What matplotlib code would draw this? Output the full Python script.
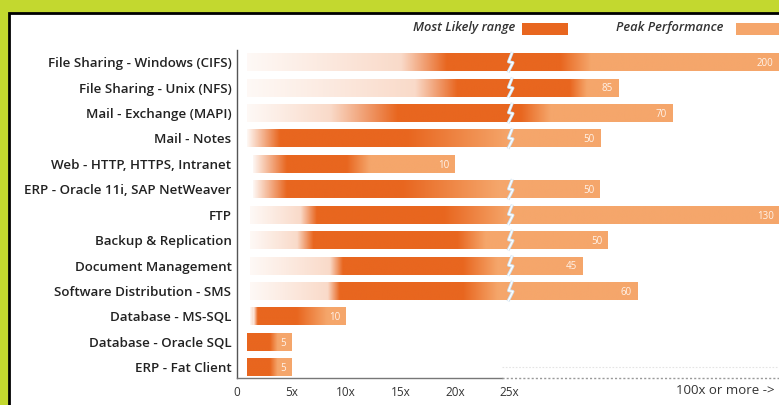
import matplotlib.pyplot as plt
import numpy as np
from matplotlib.patches import Rectangle
from matplotlib.colors import to_rgb
from matplotlib.transforms import blended_transform_factory

plt.rcParams['font.family'] = ['Open Sans', 'DejaVu Sans']

categories = ['File Sharing - Windows (CIFS)', 'File Sharing - Unix (NFS)',
              'Mail - Exchange (MAPI)', 'Mail - Notes', 'Web - HTTP, HTTPS, Intranet',
              'ERP - Oracle 11i, SAP NetWeaver', 'FTP', 'Backup & Replication',
              'Document Management', 'Software Distribution - SMS',
              'Database - MS-SQL', 'Database - Oracle SQL', 'ERP - Fat Client']
peak_labels = [200, 85, 70, 50, 10, 50, 130, 50, 45, 60, 10, 5, 5]
# positions on the drawn (broken) scale
bar_start = [0.9, 0.9, 0.9, 0.9, 1.5, 1.5, 1.2, 1.2, 1.2, 1.2, 1.2, 0.9, 0.9]
fade_from = [15.0, 16.3, 8.5, 0.9, 1.5, 1.5, 5.8, 5.5, 8.5, 8.3, 1.5, 0.9, 0.9]
likely_lo = [19.2, 20.2, 14.7, 3.9, 4.6, 4.6, 7.3, 7.0, 9.7, 9.4, 1.9, 0.9, 0.9]
likely_hi = [29.6, 30.5, 26.0, 15.6, 10.1, 15.2, 19.0, 20.2, 20.7, 20.7, 5.5, 3.0, 3.0]
peak_lo = [32.4, 32.1, 28.7, 25.0, 12.2, 24.0, 25.0, 22.8, 23.9, 23.9, 8.3, 3.7, 3.7]
bar_end = [49.7, 35.0, 39.9, 33.3, 20.0, 33.3, 49.7, 34.0, 31.7, 36.7, 10.0, 5.0, 5.0]
tick_vals = [0, 5, 10, 15, 20, 25]
tick_text = ['0', '5x', '10x', '15x', '20x', '25x']
break_at = 25

dark = np.array(to_rgb('#e8661f'))
light = np.array(to_rgb('#f5a66b'))
white = np.array([1.0, 1.0, 1.0])

fig = plt.figure(figsize=(7.79, 4.05), dpi=100)
fig.patch.set_facecolor('#c3d82f')
frame = Rectangle((9 / 779, -0.1), 1.1, 0.1 + 392 / 405, transform=fig.transFigure,
                  facecolor='white', edgecolor='black', linewidth=2, zorder=-10)
fig.patches.append(frame)

ax = fig.add_axes([237 / 779, 27 / 405, 1 - 237 / 779, 328 / 405])
ax.set_facecolor('none')
xmax = 49.7
ybot = 12.42

h = 0.7
for i in range(len(categories)):
    xs = np.linspace(bar_start[i], bar_end[i], 600)
    cols = np.zeros((len(xs), 3))
    for k, x in enumerate(xs):
        if x < fade_from[i]:
            t = (x - bar_start[i]) / max(fade_from[i] - bar_start[i], 1e-6)
            m = 0.04 + 0.2 * t
            c = white * (1 - m) + dark * m
        elif x < likely_lo[i]:
            t = (x - fade_from[i]) / max(likely_lo[i] - fade_from[i], 1e-6)
            m0 = 0.24 if fade_from[i] > bar_start[i] + 0.5 else 0.05
            m = m0 + (1 - m0) * t
            c = white * (1 - m) + dark * m
        elif x < likely_hi[i]:
            c = dark
        elif x < peak_lo[i]:
            t = (x - likely_hi[i]) / (peak_lo[i] - likely_hi[i])
            c = dark * (1 - t) + light * t
        else:
            c = light
        cols[k] = c
    ax.imshow(cols[np.newaxis, :, :], extent=(bar_start[i], bar_end[i], i + h / 2, i - h / 2),
              aspect='auto', interpolation='bilinear', zorder=2)
    ax.text(bar_end[i] - 0.5, i + 0.05, str(peak_labels[i]), ha='right', va='center',
            fontsize=7, color='#fff3ea', zorder=4)
    if bar_end[i] > break_at:
        zx = np.array([0.25, -0.1, 0.3, -0.15])
        zy = np.array([-0.5, -0.02, 0.02, 0.5]) * (h + 0.1)
        ax.plot(break_at + zx, i + zy, color='#cfe3f2', linewidth=2.2, zorder=5,
                solid_capstyle='butt')
        ax.plot(break_at + zx, i + zy, color='white', linewidth=0.9, zorder=6,
                solid_capstyle='butt')

ax.set_xlim(0, xmax)
ax.set_ylim(ybot, -0.48)
ax.set_yticks(range(len(categories)))
ax.set_yticklabels(categories, fontsize=9.6, color='#222222', fontweight='semibold')
ax.set_xticks(tick_vals)
ax.set_xticklabels(tick_text, fontsize=8.5, color='#333333')
ax.tick_params(length=0, pad=4)
ax.tick_params(axis='x', pad=6)
for s in ['top', 'right', 'bottom']:
    ax.spines[s].set_visible(False)
ax.spines['left'].set_color('#555555')
ax.spines['left'].set_linewidth(1.0)
ax.plot([0, 24.3], [ybot, ybot], color='#777777', linewidth=1.0, clip_on=False, zorder=3)
ax.plot([24.3, xmax], [ybot, ybot], color='#999999', linestyle=(0, (1.5, 1.5)),
        linewidth=1.0, clip_on=False, zorder=3)
ax.plot([24.3, xmax], [11.98, 11.98], color='#e4e4e4', linestyle=(0, (1.5, 1.5)),
        linewidth=0.8, clip_on=False, zorder=1)
trans = blended_transform_factory(ax.transData, ax.transAxes)
ax.text(40.3, -0.018, '100x or more ->', transform=trans, ha='left', va='top',
        fontsize=9.5, color='#333333', clip_on=False)

# legend
fig.text(515 / 779, 1 - 28 / 405, 'Most Likely range', ha='right', va='center',
         fontsize=9.3, style='italic', fontweight='semibold', color='#333333')
fig.patches.append(Rectangle((522 / 779, 1 - 35 / 405), 46 / 779, 12 / 405,
                             transform=fig.transFigure, facecolor='#e8661f', edgecolor='none'))
fig.text(723 / 779, 1 - 28 / 405, 'Peak Performance', ha='right', va='center',
         fontsize=9.3, style='italic', fontweight='semibold', color='#333333')
fig.patches.append(Rectangle((736 / 779, 1 - 35 / 405), 50 / 779, 12 / 405,
                             transform=fig.transFigure, facecolor='#f5a66b', edgecolor='none'))

fig.savefig('out.png', dpi=100, facecolor=fig.get_facecolor())
